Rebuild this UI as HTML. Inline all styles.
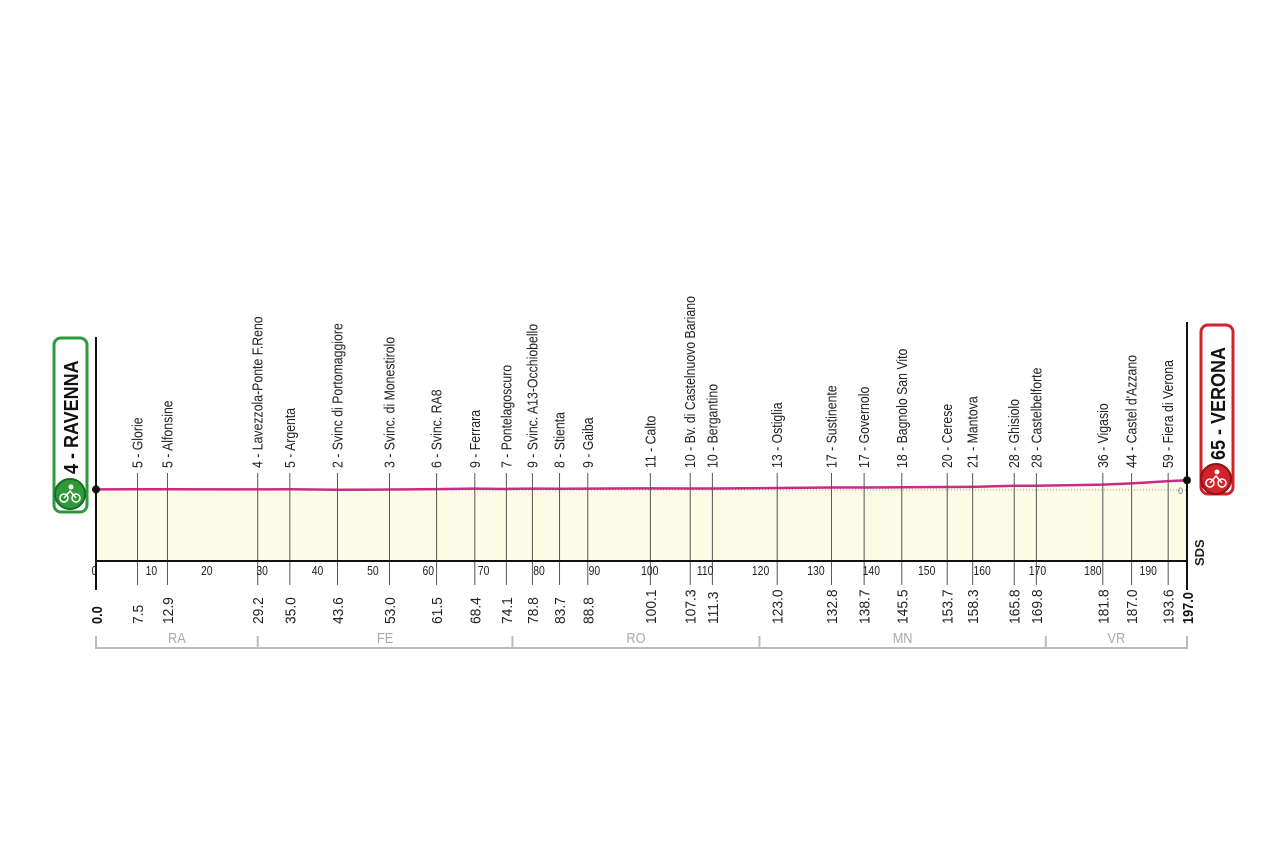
<!DOCTYPE html>
<html><head><meta charset="utf-8"><style>
html,body{margin:0;padding:0;background:#fff;}
svg{display:block;font-family:"Liberation Sans",sans-serif;}
</style></head><body>
<svg id="chart" width="1280" height="852" viewBox="0 0 1280 852" xmlns="http://www.w3.org/2000/svg">
<g id="grid"></g>
<g id="area"></g>
<g id="marks"></g>
<g id="axis"></g>
<g id="prov"></g>

<g>
<rect x="54" y="338" width="33" height="174" rx="7" fill="#fff" stroke="#2e9a3a" stroke-width="3"/>
<text transform="translate(78,474) rotate(-90) scale(0.9,1)" font-size="20" font-weight="bold" fill="#111">4 - RAVENNA</text>
<circle cx="70" cy="494" r="15" fill="#2e9a3a" stroke="#1d6b27" stroke-width="2"/>
<circle cx="64" cy="498" r="4" fill="none" stroke="#fff" stroke-width="1.5"/><circle cx="76" cy="498" r="4" fill="none" stroke="#fff" stroke-width="1.5"/>
<circle cx="71" cy="487" r="2.5" fill="#fff"/><path d="M64 498 L70 491 L76 498" stroke="#fff" stroke-width="1.5" fill="none"/>
</g>
<g>
<rect x="1201" y="325" width="32" height="169" rx="7" fill="#fff" stroke="#d2232a" stroke-width="3"/>
<text transform="translate(1225,460) rotate(-90) scale(0.9,1)" font-size="20" font-weight="bold" fill="#111">65 - VERONA</text>
<circle cx="1216" cy="479" r="15" fill="#d2232a" stroke="#8e1418" stroke-width="2"/>
<circle cx="1210" cy="483" r="4" fill="none" stroke="#fff" stroke-width="1.5"/><circle cx="1222" cy="483" r="4" fill="none" stroke="#fff" stroke-width="1.5"/>
<circle cx="1217" cy="472" r="2.5" fill="#fff"/><path d="M1210 483 L1216 476 L1222 483" stroke="#fff" stroke-width="1.5" fill="none"/>
</g>
<text transform="translate(1204,566) rotate(-90)" font-size="13" font-weight="bold" fill="#222">SDS</text>
</svg>
<script>
const names = ["5 - Glorie","5 - Alfonsine","4 - Lavezzola-Ponte F.Reno","5 - Argenta","2 - Svinc di Portomaggiore","3 - Svinc. di Monestirolo","6 - Svinc. RA8","9 - Ferrara","7 - Pontelagoscuro","9 - Svinc. A13-Occhiobello","8 - Stienta","9 - Gaiba","11 - Calto","10 - Bv. di Castelnuovo Bariano","10 - Bergantino","13 - Ostiglia","17 - Sustinente","17 - Governolo","18 - Bagnolo San Vito","20 - Cerese","21 - Mantova","28 - Ghisiolo","28 - Castelbelforte","36 - Vigasio","44 - Castel d'Azzano","59 - Fiera di Verona"];
const kms = [7.5,12.9,29.2,35.0,43.6,53.0,61.5,68.4,74.1,78.8,83.7,88.8,100.1,107.3,111.3,123.0,132.8,138.7,145.5,153.7,158.3,165.8,169.8,181.8,187.0,193.6];
const alts = [5,5,4,5,2,3,6,9,7,9,8,9,11,10,10,13,17,17,18,20,21,28,28,36,44,59];
const startAlt = 4, endAlt = 65, totalKm = 197;
const kmTicks = [0,10,20,30,40,50,60,70,80,90,100,110,120,130,140,150,160,170,180,190];
const provinces = ["RA","FE","RO","MN","VR"];
const provBounds = [0,29.2,75.2,119.8,171.5,197];

const NS="http://www.w3.org/2000/svg";
const X = km => 96 + km*(1187-96)/totalKm;
const Y = a => 490 - a*0.15;
const BASE = 561;
function mk(tag, attrs, parent){const e=document.createElementNS(NS,tag);for(const k in attrs)e.setAttribute(k,attrs[k]);parent.appendChild(e);return e;}
const grid=document.getElementById('grid'), area=document.getElementById('area'), marks=document.getElementById('marks'), axis=document.getElementById('axis'), prov=document.getElementById('prov');

const pk=[0,...kms,totalKm], pa=[startAlt,...alts,endAlt];
let d=`M${X(0)} ${BASE}`; pk.forEach((k,i)=>d+=` L${X(k)} ${Y(pa[i])}`); d+=` L${X(totalKm)} ${BASE} Z`;
const fill=mk('path',{d,fill:'#fbfbe6'},area);


const zl=mk('line',{x1:X(0),x2:X(totalKm),y1:Y(0),y2:Y(0),stroke:'#999','stroke-dasharray':'1 2','stroke-width':1},area);



kmTicks.forEach(k=>{
  if(k>0){const g=mk('line',{x1:X(k),x2:X(k),y1:Y(5),y2:BASE,stroke:'#888','stroke-dasharray':'1 1','stroke-width':1},grid);
  
  }
  const t=mk('text',{x:X(k)+(k===0?-2:0),y:575,'font-size':13,'text-anchor':'middle',fill:'#222',transform:`translate(${X(k)},0) scale(0.8,1) translate(${-X(k)},0)`},axis);
  t.textContent=k;
  
  
});

kms.forEach((k,i)=>{
  const x=X(k);
  const l=mk('line',{x1:x,x2:x,y1:473,y2:585,stroke:'#555','stroke-width':1},marks);
  
  
  const t=mk('text',{transform:`translate(${x+5},468) rotate(-90) scale(0.82,1)`,'font-size':15,fill:'#222'},marks);
  t.textContent=names[i];
  
  
  const kt=mk('text',{transform:`translate(${x+5.5},624) rotate(-90) scale(0.92,1)`,'font-size':15,fill:'#222'},marks);
  kt.textContent=k.toFixed(1);
  
  
});
[[0,'0.0'],[totalKm,'197.0']].forEach(([k,s])=>{
  const kt=mk('text',{transform:`translate(${X(k)+6},624) rotate(-90) scale(0.85,1)`,'font-size':15,'font-weight':'bold',fill:'#111'},axis);
  kt.textContent=s;
  
  
});

let ld=''; pk.forEach((k,i)=>ld+=(i?' L':'M')+X(k)+' '+Y(pa[i]));
const line=mk('path',{d:ld,fill:'none',stroke:'#cc2a88','stroke-width':2.5},area);


const base=mk('line',{x1:X(0),x2:X(totalKm),y1:BASE,y2:BASE,stroke:'#111','stroke-width':2},axis);


const la=mk('line',{x1:96,x2:96,y1:337,y2:590,stroke:'#111','stroke-width':2},axis);


const ra=mk('line',{x1:1187,x2:1187,y1:322,y2:590,stroke:'#111','stroke-width':2},axis);


[[0,startAlt],[totalKm,endAlt]].forEach(([k,a])=>{
  const c=mk('circle',{cx:X(k),cy:Y(a),r:4,fill:'#111'},axis);
  
  
});
const z=mk('text',{x:1183,y:494,'font-size':9,'text-anchor':'end',fill:'#777'},axis);
z.textContent='0';



const pb=mk('path',{d:`M${X(0)} 636 V648 H${X(totalKm)} V636`,fill:'none',stroke:'#bbb','stroke-width':2},prov);


provinces.forEach((p,i)=>{
  if(i>0){const t=mk('line',{x1:X(provBounds[i]),x2:X(provBounds[i]),y1:636,y2:648,stroke:'#bbb','stroke-width':2},prov);
  
  }
  const cx=(X(provBounds[i])+X(provBounds[i+1]))/2;
  const tt=mk('text',{x:cx,y:643,'font-size':15,'text-anchor':'middle',fill:'#aaa',transform:`translate(${cx},0) scale(0.85,1) translate(${-cx},0)`},prov);
  tt.textContent=p;
  
  
});
</script>
</body></html>
